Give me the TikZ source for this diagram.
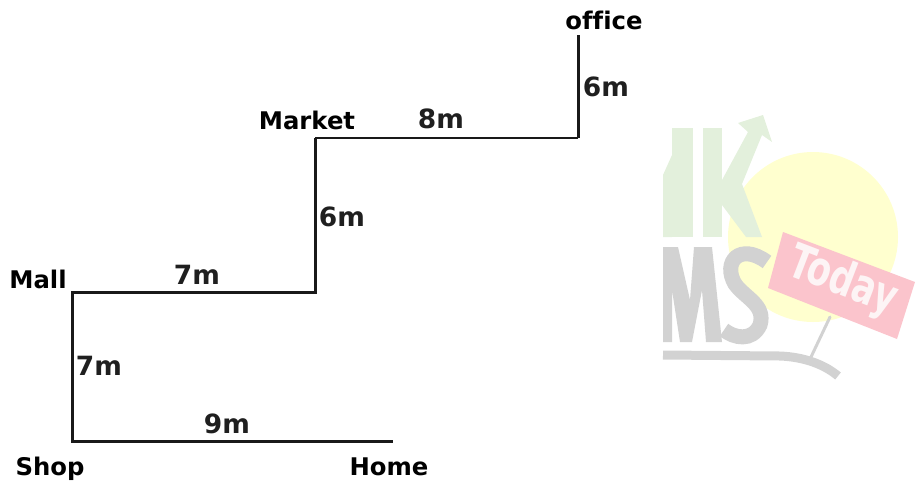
\documentclass[tikz,border=0pt]{standalone}
\usepackage{fontspec}
\setmainfont{DejaVu Sans}[Ligatures=NoCommon]
\usetikzlibrary{positioning}
\definecolor{wmgreenc}{HTML}{E3F0DC}
\definecolor{wmgreyc}{HTML}{D2D2D2}
\definecolor{wmpinkc}{HTML}{FBC4CC}
\definecolor{wmsunc}{HTML}{FFFFCF}
\definecolor{wmtextc}{HTML}{FDF4F5}
\tikzset{
  place/.style={inner sep=0pt,font=\fontsize{24.3}{24.3}\selectfont\bfseries,text=black},
  dist/.style={inner sep=0pt,font=\fontsize{26.5}{26.5}\selectfont\bfseries,text=black!88},
  route/.style={draw=black!90,line width=3pt,line cap=butt,line join=miter},
  wmgreen/.style={fill=wmgreenc,draw=none},
  wmgrey/.style={fill=wmgreyc,draw=none},
  wmgreyline/.style={draw=wmgreyc,line cap=round}
}
\begin{document}
\begin{tikzpicture}[x=1pt,y=-1pt]
\useasboundingbox (0,0) rectangle (916,483);
% faded watermark
\fill[wmsunc] (813,237) circle (85);
\fill[wmgreen] (663,175) -- (672,155) -- (672,237) -- (663,237) -- cycle;
\fill[wmgreen] (672,128) rectangle (693,237);
\fill[wmgreen] (703,128) rectangle (722,237);
\fill[wmgreen] (722,180) -- (748,132) -- (738,123) -- (763,115) -- (772,142) -- (762,135) -- (742,184) -- (762,237) -- (746,237) -- (722,205) -- cycle;
\fill[wmgrey] (663,247) -- (678,247) -- (690,300) -- (694,247) -- (712,247) -- (722,342) -- (706,342) -- (702,290) -- (692,342) -- (680,342) -- (672,290) -- (672,342) -- (663,342) -- cycle;
\draw[wmgreyline,line width=15pt,line cap=butt] (767,262) .. controls (740,242) and (722,262) .. (735,284) .. controls (745,298) and (766,305) .. (760,325) .. controls (752,342) and (734,338) .. (724,330);
\draw[wmgreyline,line width=9pt,line cap=butt] (663,355) -- (780,356) .. controls (805,357) and (825,365) .. (838,376);
\draw[wmgreyline,line width=3pt] (811,357) -- (830,317);
\fill[wmpinkc] (783,232) -- (915,282) -- (897,339) -- (768,288) -- cycle;
\node[inner sep=0pt,rotate=-21,xscale=.72,text=wmtextc,font=\fontsize{48}{48}\selectfont\bfseries] (today) at (843,282) {Today};
% route
\coordinate (officeEnd) at (578,35);
\coordinate (marketCorner) at (578,138);
\coordinate (marketTurn) at (315,138);
\coordinate (mallTurn) at (315,292);
\coordinate (mallCorner) at (72,292);
\coordinate (shopCorner) at (72,441);
\coordinate (homeEnd) at (393,441);
\draw[route] (officeEnd) -- (marketCorner);
\draw[route,line width=2pt] (marketCorner) -- (marketTurn);
\draw[route] (marketTurn) -- (mallTurn) -- (mallCorner) -- (shopCorner) -- (homeEnd);
% place names
\node[place] (office) at (604,20) {office};
\node[place] (market) at (307,120) {Market};
\node[place] (mall) at (38,279) {Mall};
\node[place] (shop) at (50,469) {Shop};
\node[place] (home) at (389,467) {Home};
% distances
\node[dist] (d1) at (606,87) {6m};
\node[dist] (d2) at (441,119) {8m};
\node[dist] (d3) at (342,217) {6m};
\node[dist] (d4) at (197,275) {7m};
\node[dist] (d5) at (99,366) {7m};
\node[dist] (d6) at (227,424) {9m};
\end{tikzpicture}
\end{document}
